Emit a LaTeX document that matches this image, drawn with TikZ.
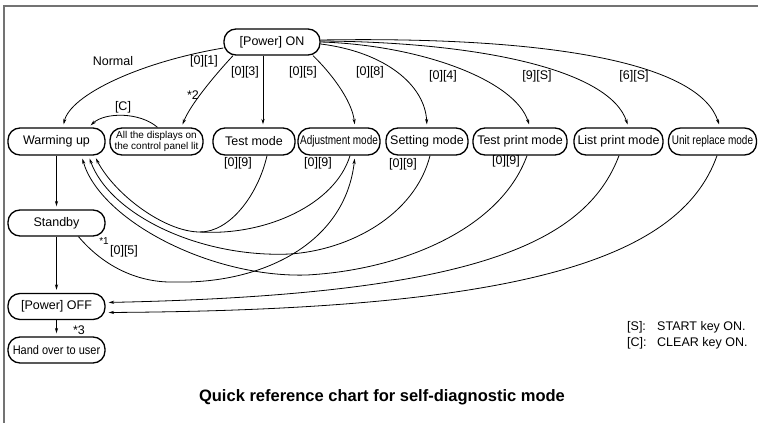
\documentclass[tikz,border=0pt]{standalone}
\usepackage{fontspec}
\setmainfont{Liberation Sans}
\usepackage{graphicx}
\usetikzlibrary{arrows.meta}
\begin{document}
\begin{tikzpicture}[x=1pt,y=-1pt,
  box/.style={draw,line width=1.3pt,rounded corners=12pt,minimum height=26pt,inner sep=0pt,font=\fontsize{12.5}{14}\selectfont},
  lab/.style={inner sep=0pt,font=\fontsize{12.5}{14}\selectfont},
  con/.style={line width=0.8pt},
  arr/.style={con,-{Stealth[length=5.5pt,width=3.2pt]},shorten >=3pt},
]
\useasboundingbox (0,0) rectangle (758,423);
% frame
\draw[line width=1.5pt,black!55] (4,423) -- (4,6) -- (758,6);

% nodes
\node[box,minimum width=96pt] (pon) at (272,42) {[Power] ON};
\node[box,minimum width=97pt,minimum height=27pt] (warm) at (56.5,141.5) {Warming up};
\node[box,minimum width=93pt,minimum height=27pt,align=center,font=\fontsize{10}{10.5}\selectfont] (alld) at (156.5,141.5) {All the displays on\\the control panel lit};
\node[box,minimum width=82pt,minimum height=27pt] (test) at (254,141.5) {Test mode};
\node[box,minimum width=82pt,minimum height=27pt] (adj) at (339,141.5) {\scalebox{0.8}[1]{Adjustment mode}};
\node[box,minimum width=82pt,minimum height=27pt] (set) at (427,141.5) {Setting mode};
\node[box,minimum width=94pt,minimum height=27pt] (tpm) at (520,141.5) {Test print mode};
\node[box,minimum width=89pt,minimum height=27pt] (lpm) at (618.5,141.5) {List print mode};
\node[box,minimum width=88pt,minimum height=27pt] (urm) at (712.5,141.5) {\scalebox{0.8}[1]{Unit replace mode}};
\node[box,minimum width=97pt] (stby) at (56.5,223) {Standby};
\node[box,minimum width=97pt] (poff) at (56.5,306.5) {[Power] OFF};
\node[box,minimum width=97pt] (hand) at (56.5,350) {\scalebox{0.88}[1]{Hand over to user}};

% labels
\node[lab] (lnormal) at (113,61) {Normal};
\node[lab] (l01) at (204,61) {[0][1]};
\node[lab] (l2) at (193,95) {*2};
\node[lab] (lC) at (123,107) {[C]};
\node[lab] (l03) at (245,72) {[0][3]};
\node[lab] (l05) at (303,72) {[0][5]};
\node[lab] (l08) at (370,72) {[0][8]};
\node[lab] (l04) at (443,76) {[0][4]};
\node[lab] (l9S) at (537,76) {[9][S]};
\node[lab] (l6S) at (634,76) {[6][S]};
\node[lab] (r1) at (238,163) {[0][9]};
\node[lab] (r2) at (318,163) {[0][9]};
\node[lab] (r3) at (403,164) {[0][9]};
\node[lab] (r4) at (506,161) {[0][9]};
\node[lab,font=\fontsize{10}{11}\selectfont] (s1) at (104,241) {*1};
\node[lab] (l05b) at (124,251) {[0][5]};
\node[lab] (l3) at (79,330) {*3};
\node[lab,anchor=west] (legS) at (627,327) {\makebox[30pt][l]{[S]:}START key ON.};
\node[lab,anchor=west] (legC) at (627,343) {\makebox[30pt][l]{[C]:}CLEAR key ON.};
\node[inner sep=0pt,font=\fontsize{16.5}{18}\selectfont\bfseries] (title) at (382,397) {Quick reference chart for self-diagnostic mode};

% from Power ON
\draw[arr] ([yshift=-6pt]pon.west) .. controls (140,62) and (70,95) .. ([xshift=6.5pt]warm.north);
\draw[arr] ([xshift=-39pt]pon.south) .. controls (215,75) and (190,105) .. ([xshift=25pt]alld.north);
\draw[arr] ([xshift=1pt]alld.north) .. controls (140,112) and (105,112) .. ([xshift=32pt]warm.north);
\draw[arr] ([xshift=-9pt]pon.south) -- ([xshift=9pt]test.north);
\draw[arr] ([xshift=41pt]pon.south) .. controls (330,72) and (352,100) .. ([xshift=16pt]adj.north);
\draw[arr] ([yshift=-2pt]pon.east) .. controls (385,52) and (425,85) .. (set.north);
\draw[arr] (pon.east) .. controls (420,45) and (515,80) .. ([xshift=10pt]tpm.north);
\draw[arr] ([yshift=1pt]pon.east) .. controls (480,42) and (610,70) .. ([xshift=10pt]lpm.north);
\draw[arr] ([yshift=2pt]pon.east) .. controls (560,36) and (700,65) .. ([xshift=7.5pt]urm.north);

% returns to Warming up
\coordinate (m1) at (200,232);
\draw[con] ([xshift=13pt]test.south) .. controls (258,195) and (230,232) .. (m1);
\draw[con] ([xshift=11pt]adj.south) .. controls (335,205) and (265,236) .. (m1);
\draw[arr] (m1) .. controls (165,232) and (115,195) .. ([xshift=38pt]warm.south);
\draw[arr] ([xshift=3pt]set.south) .. controls (415,215) and (350,250) .. (290,254) .. controls (200,258) and (110,215) .. ([xshift=32pt]warm.south);
\draw[arr] ([xshift=7pt]tpm.south) .. controls (500,230) and (400,270) .. (307,275) .. controls (210,278) and (100,220) .. ([xshift=25pt]warm.south);

% standby to adjustment
\draw[arr] ([xshift=22pt]stby.south) .. controls (105,268) and (140,283) .. (175,282) .. controls (260,284) and (345,245) .. ([xshift=16pt]adj.south);

% to Power OFF
\draw[arr] ([xshift=0.5pt]lpm.south) .. controls (585,245) and (470,295) .. ([yshift=4pt]poff.east);
\draw[arr] ([xshift=4.5pt]urm.south) .. controls (680,260) and (520,310) .. ([yshift=-6pt]poff.east);

% vertical chain
\draw[arr] (warm.south) -- (stby.north);
\draw[arr] (stby.south) -- (poff.north);
\draw[arr] (poff.south) -- (hand.north);
\end{tikzpicture}
\end{document}
